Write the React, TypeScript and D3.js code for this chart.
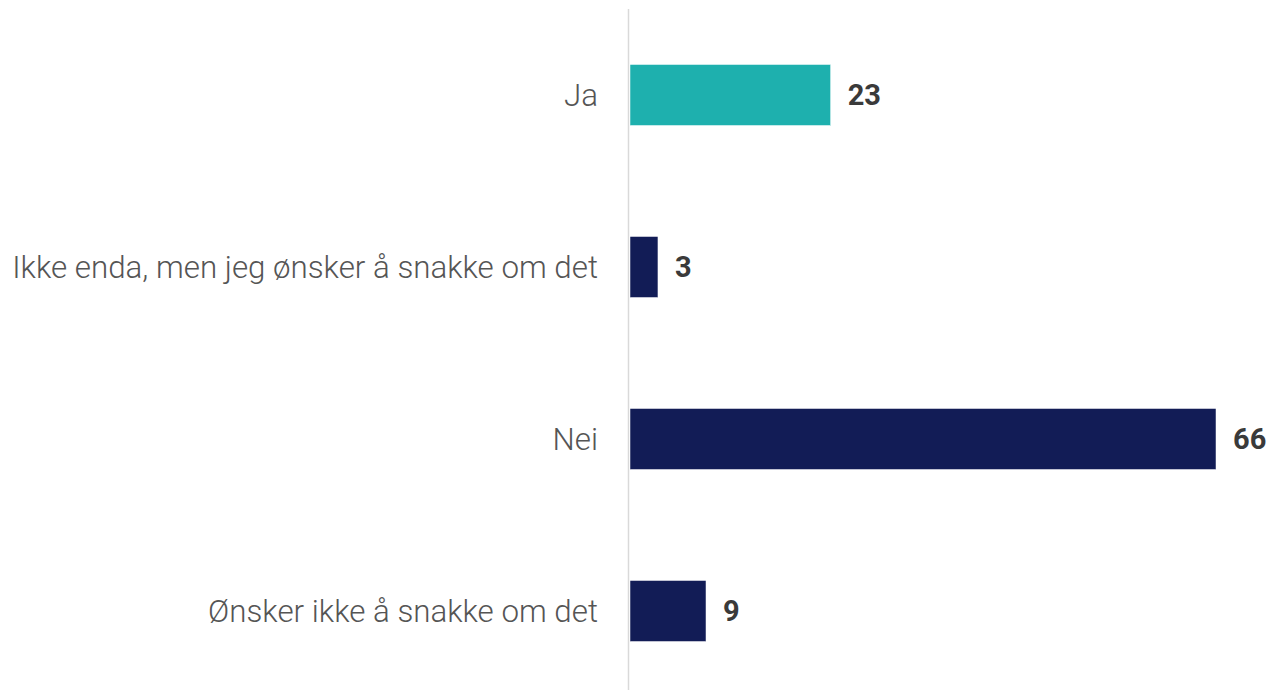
import React from "react";
import * as d3 from "d3";

const categories = ["Ja", "Ikke enda, men jeg ønsker å snakke om det", "Nei", "Ønsker ikke å snakke om det"];
const values = [22.6, 3.15, 66, 8.56];
const colors = ["#1eb0ae", "#121c56", "#121c56", "#121c56"];

const W = 1271;
const H = 692;

export default function App() {
  const x = d3.scaleLinear().domain([0, 66]).range([630, 1216]);
  const y = d3
    .scaleBand<string>()
    .domain(categories)
    .range([9, 697])
    .paddingInner(0.645)
    .paddingOuter(0.3225);

  return (
    <svg
      width={W}
      height={H}
      style={{ position: "absolute", left: 0, top: 0, fontFamily: "Roboto, sans-serif" }}
    >
      <line x1={628.5} x2={628.5} y1={9} y2={690} stroke="#d9d9d9" strokeWidth={1.5} />
      {categories.map((c, i) => {
        const yy = y(c)!;
        const bw = y.bandwidth();
        return (
          <g key={c}>
            <rect
              x={x(0)}
              y={yy}
              width={x(values[i]) - x(0)}
              height={bw}
              fill={colors[i]}
              stroke="#ffffff"
              strokeWidth={0.5}
            />
            <text
              x={598}
              y={yy + bw / 2}
              dy="0.35em"
              textAnchor="end"
              fontSize={31.3}
              fontWeight={300}
              fill="#555555"
            >
              {c}
            </text>
            <text
              x={x(values[i]) + 17}
              y={yy + bw / 2}
              dy="0.35em"
              fontSize={29}
              fontWeight={700}
              fill="#3a3a3a"
            >
              {Math.round(values[i])}
            </text>
          </g>
        );
      })}
    </svg>
  );
}
